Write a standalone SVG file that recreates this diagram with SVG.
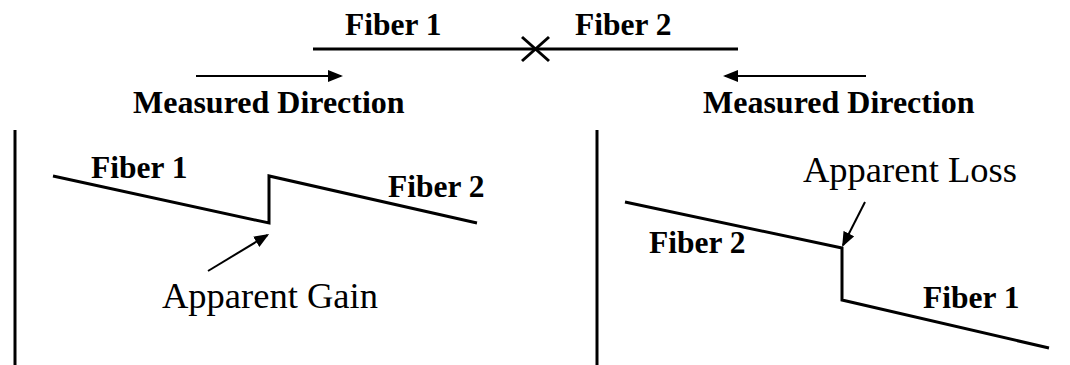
<svg xmlns="http://www.w3.org/2000/svg" width="1070" height="365" viewBox="0 0 1070 365">
<style>
.b{font-family:"Liberation Serif","Times New Roman",serif;font-weight:bold;font-size:31.5px;fill:#000}
.md{font-size:32px}
.r{font-family:"Liberation Serif","Times New Roman",serif;font-size:36.5px;fill:#000}
.ln{stroke:#000;stroke-width:3;fill:none;stroke-linejoin:miter}
.ar{stroke:#000;stroke-width:2;fill:none}
</style>
<defs>
<marker id="ah" markerUnits="userSpaceOnUse" markerWidth="15" markerHeight="12" refX="13" refY="6" orient="auto">
<path d="M0,0 L15,6 L0,12 z" fill="#000"/>
</marker>
</defs>
<rect width="1070" height="365" fill="#fff"/>
<g id="top-fibers">
<line class="ln" x1="313" y1="49" x2="738" y2="49"/>
<line class="ln" x1="522" y1="37" x2="549" y2="61"/>
<line class="ln" x1="522" y1="61" x2="549" y2="37"/>
<text class="b" x="345" y="35">Fiber 1</text>
<text class="b" x="575" y="35">Fiber 2</text>
</g>
<g id="left-direction">
<text class="b md" x="133" y="113">Measured Direction</text>
</g>
<g id="right-direction">
<text class="b md" x="703" y="113">Measured Direction</text>
</g>
<g id="left-panel">
<line class="ln" x1="15" y1="130" x2="15" y2="365"/>
<polyline class="ln" points="53,176 269,223 269,176 477,223"/>
<text class="b" x="91" y="178">Fiber 1</text>
<text class="b" x="388" y="197">Fiber 2</text>
<text class="r" x="162" y="308">Apparent Gain</text>
</g>
<g id="right-panel">
<line class="ln" x1="597" y1="130" x2="597" y2="365"/>
<polyline class="ln" points="625,202 842,248 842,300 1049,348"/>
<text class="r" x="803" y="182">Apparent Loss</text>
<text class="b" x="649" y="253">Fiber 2</text>
<text class="b" x="923" y="308">Fiber 1</text>
</g>
<g id="connectors">
<line class="ar" x1="196" y1="76" x2="341" y2="76" marker-end="url(#ah)"/>
<line class="ar" x1="866" y1="76" x2="725" y2="76" marker-end="url(#ah)"/>
<line class="ar" x1="208" y1="271" x2="267.4" y2="235.1" marker-end="url(#ah)"/>
<line class="ar" x1="865" y1="202" x2="843" y2="245.2" marker-end="url(#ah)"/>
</g>
</svg>
